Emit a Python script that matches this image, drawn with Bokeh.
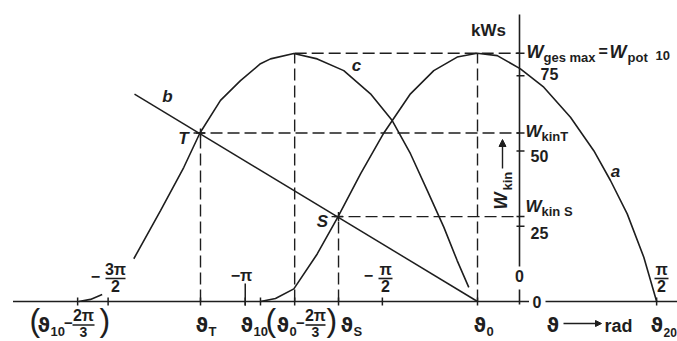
import math
from bokeh.plotting import figure
from bokeh.models import Range1d, Arrow, NormalHead
from bokeh.embed import file_html
from bokeh.resources import INLINE
from bokeh.core.properties import value

PI = math.pi
NAN = float("nan")

# ---------------- data (angles in rad, energies in kWs) ----------------
theta_10 = -2.967
theta_0 = -0.481
theta_20 = PI / 2
theta_T = -3.654
theta_S = -2.073
shift = 2 * PI / 3

W_ges_max = 82.5
W_kin_T = 56.0
W_kin_S = 28.2

# curve a
a_theta = [-2.967, -2.795, -2.585, -2.317, -2.081, -1.821, -1.554, -1.249, -0.982,
           -0.714, -0.485, -0.255, 0.011, 0.278, 0.584, 0.851, 1.042, 1.234, 1.424, 1.571]
a_W = [0.0, 1.0, 4.2, 15.8, 28.0, 42.4, 56.0, 69.0, 76.7,
       81.2, 82.5, 81.7, 77.3, 71.2, 61.2, 50.1, 40.2, 29.1, 14.7, 0.0]

# curve c (gap where the -3pi/2 label sits)
c_theta = [-5.048, -4.914, -4.780, NAN, -4.418, -4.112, -3.845, -3.662, -3.425, -3.196,
           -2.967, -2.852, -2.585, -2.317, -2.013, -1.707, -1.458, -1.249, -1.057,
           -0.867, -0.714, -0.581]
c_W = [0.0, 0.7, 2.3, NAN, 14.2, 30.2, 44.6, 55.9, 66.8, 73.4,
       79.0, 80.6, 82.4, 80.6, 76.7, 69.0, 60.1, 49.1, 36.9,
       24.7, 13.6, 4.7]

# straight line b
b_theta = [-4.41, theta_0]
b_W = [68.9, 0.0]

x_ticks = [theta_10 - shift, -3 * PI / 2, theta_T, -PI, theta_10,
           theta_0 - shift, theta_S, -PI / 2, theta_0, theta_20]
w_ticks = [25, 50, 75, W_kin_S, W_kin_T, W_ges_max]

# ---------------- layout helpers (reference pixel -> data) ----------------
X0, KX = 519.0, 87.3
Y0, KY = 301.0, 3.01
W_PX, H_PX = 677, 341
TXT_K = 0.43   # compensation of the renderer's baseline placement (fraction of font size)


def px(rx):
    return (rx - X0) / KX


def py(ry):
    return (Y0 - ry) / KY


INK = "#1e1e1e"
LAT = "Liberation Sans"
DJV = "DejaVu Sans"

p = figure(width=W_PX, height=H_PX,
           x_range=Range1d(px(0), px(W_PX)),
           y_range=Range1d(py(H_PX), py(0)),
           x_axis_type=None, y_axis_type=None,
           output_backend="svg", toolbar_location=None, min_border=0)
p.grid.visible = False
p.outline_line_color = None
p.background_fill_color = "white"
p.border_fill_color = "white"


def txt(s, rx, ry, size, align="left", baseline="alphabetic", style="bold",
        font=LAT, angle=0.0):
    if baseline == "alphabetic":
        if angle == 0.0:
            ry -= TXT_K * size
        else:
            rx -= TXT_K * size
    p.text(x=[px(rx)], y=[py(ry)], text=[s], text_font=value(font),
           text_font_size=f"{size}px", text_font_style=style,
           text_align=align, text_baseline=baseline, text_color=INK, angle=angle)


def seg(x0, y0, x1, y1, w=1.5, dash="solid"):
    p.segment(x0=x0, y0=y0, x1=x1, y1=y1, line_color=INK, line_width=w, line_dash=dash)


def frac(num, den, cx, bar_y, half_w, size_n=16, size_d=16, gap_d=14, gap_n=2.5):
    txt(num, cx, bar_y - gap_n, size_n, align="center")
    seg([px(cx - half_w)], [py(bar_y)], [px(cx + half_w)], [py(bar_y)], w=1.6)
    txt(den, cx, bar_y + gap_d, size_d, align="center")


# ---------------- axes ----------------
seg([px(12.5), px(545)], [0, 0], [px(528.5), px(W_PX + 5)], [0, 0], w=1.6)
seg([0, 0], [py(14), py(289)], [0, 0], [py(266), py(304)], w=1.6)

p.segment(x0=x_ticks, y0=[py(297)] * len(x_ticks), x1=x_ticks,
          y1=[py(305)] * len(x_ticks), line_color=INK, line_width=1.5)
seg([-PI], [py(283)], [-PI], [py(305)], w=1.5)
p.segment(x0=[px(516)] * len(w_ticks), y0=w_ticks, x1=[px(524)] * len(w_ticks),
          y1=w_ticks, line_color=INK, line_width=1.5)

# ---------------- dashed construction lines ----------------
DASH = "12 5"
vx = [theta_T, theta_S, theta_0 - shift, theta_0]
vy = [W_kin_T, W_kin_S, W_ges_max, W_ges_max]
seg(vx, [0] * 4, vx, vy, w=1.4, dash=DASH)
hx = [theta_T - 0.08, theta_S - 0.08, theta_0 - shift]
hy = [W_kin_T, W_kin_S, W_ges_max]
seg(hx, hy, [0, 0, 0], hy, w=1.4, dash=DASH)

# ---------------- curves ----------------
p.line(a_theta, a_W, line_color=INK, line_width=1.6)
p.line(c_theta, c_W, line_color=INK, line_width=1.6)
p.line(b_theta, b_W, line_color=INK, line_width=1.5)
p.scatter([theta_T, theta_S], [W_kin_T, W_kin_S], marker="cross", size=9,
          line_color=INK, line_width=1.5)

# ---------------- labels right of the energy axis ----------------
txt("kWs", 488, 37, 17, align="center")
txt("W", 526, 59, 18, style="bold italic")
txt("ges max", 543, 63, 13)
txt("=", 598, 58, 16)
txt("W", 609, 59, 18, style="bold italic")
txt("pot", 627, 63, 13)
txt("10", 655, 61, 13)
txt("75", 540, 80, 16)
txt("W", 525, 138, 17, style="bold italic")
txt("kinT", 541, 142, 13)
txt("50", 530, 162, 16)
txt("W", 525, 213, 17, style="bold italic")
txt("kin S", 541, 217, 13)
txt("25", 530, 239, 16)
txt("0", 519, 282, 16, align="center")
txt("0", 532, 301, 16, baseline="middle")

# rotated W_kin with arrow
txt("W", 508, 209, 18, style="bold italic", angle=PI / 2)
txt("kin", 513, 190, 13, angle=PI / 2)
p.add_layout(Arrow(end=NormalHead(size=7, fill_color=INK, line_color=INK),
                   x_start=px(502), y_start=py(168), x_end=px(502), y_end=py(139),
                   line_color=INK, line_width=1.4))

# curve names and points
txt("a", 615, 178, 17, align="center", style="bold italic")
txt("b", 167, 103, 17, align="center", style="bold italic")
txt("c", 356, 72, 17, align="center", style="bold italic")
txt("T", 183, 145, 17, align="center", style="bold italic")
txt("S", 322, 228, 17, align="center", style="bold italic")

# ---------------- pi labels above the axis ----------------
txt("\u2212", 95, 282, 16, align="center")
frac("3\u03c0", "2", 115, 278, 10)
txt("\u2212\u03c0", 241, 282, 16, align="center")
txt("\u2212", 368, 281, 16, align="center")
frac("\u03c0", "2", 385, 278, 7)
frac("\u03c0", "2", 661, 278, 7)

# ---------------- angle labels below the axis ----------------
B, BS = 333, 337
txt("(", 29, 333, 32, style="normal")
txt("\u03d1", 37, B, 19, font=DJV)
txt("10", 50, BS, 13)
txt("\u2212", 68, 329, 15, align="center")
frac("2\u03c0", "3", 83, 324.5, 11, size_n=16, size_d=14, gap_d=13.5)
txt(")", 99, 333, 32, style="normal")

txt("\u03d1", 195, B, 19, font=DJV)
txt("T", 208, BS, 13)
txt("\u03d1", 240, B, 19, font=DJV)
txt("10", 253, BS, 13)

txt("(", 265, 333, 32, style="normal")
txt("\u03d1", 276, B, 19, font=DJV)
txt("0", 289, BS, 13)
txt("\u2212", 300, 329, 15, align="center")
frac("2\u03c0", "3", 315, 324.5, 10, size_n=16, size_d=14, gap_d=13.5)
txt(")", 326, 333, 32, style="normal")

txt("\u03d1", 340, B, 19, font=DJV)
txt("S", 353, BS, 13)
txt("\u03d1", 473, B, 19, font=DJV)
txt("0", 486, BS, 13)

txt("\u03d1", 546, B, 19, font=DJV)
p.add_layout(Arrow(end=NormalHead(size=6, fill_color=INK, line_color=INK),
                   x_start=px(563), y_start=py(323), x_end=px(601), y_end=py(323),
                   line_color=INK, line_width=1.3))
txt("rad", 604, B, 18)
txt("\u03d1", 650, B, 19, font=DJV)
txt("20", 663, BS, 12)

open("out.html", "w").write(file_html(p, INLINE))
